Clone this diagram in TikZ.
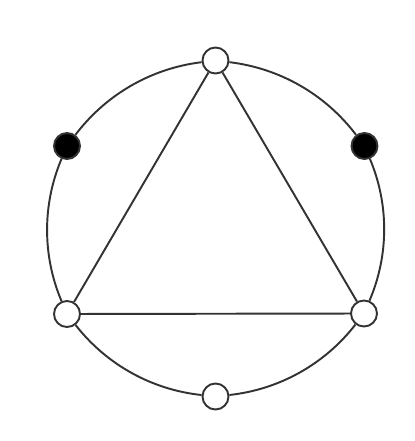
\documentclass[tikz,border=0pt]{standalone}
\usepackage{tikz}
\usetikzlibrary{arrows, positioning}
\tikzset{>=stealth}
\definecolor{ln}{HTML}{333333}
\tikzset{wv/.style={circle, draw=ln, fill=white, line width=1.1pt, minimum size=0.52cm, inner sep=0pt},
	bv/.style={circle, draw=ln, fill=black, line width=1.1pt, minimum size=0.52cm, inner sep=0pt},
	rim/.style={bend right=23, looseness=0.89}}

\begin{document}
\begin{tikzpicture}[x=0.02cm, y=0.02cm, line width=1.1pt, ln]

		\useasboundingbox (0,0) rectangle (415,441);
		\node[wv] (A) at (215.5,380.5) {};
		\node[bv] (B) at (67,295) {};
		\node[wv] (C) at (67,127) {};
		\node[wv] (D) at (215.5,44.5) {};
		\node[wv] (E) at (364,127.5) {};
		\node[bv] (F) at (364.5,295) {};
		\draw (A) to[rim] (B);
		\draw (B) to[rim] (C);
		\draw (C) to[rim] (D);
		\draw (D) to[rim] (E);
		\draw (E) to[rim] (F);
		\draw (F) to[rim] (A);
		\draw (A)--(C);
		\draw (C)--(E);
		\draw (E)--(A);

		\end{tikzpicture}
\end{document}
